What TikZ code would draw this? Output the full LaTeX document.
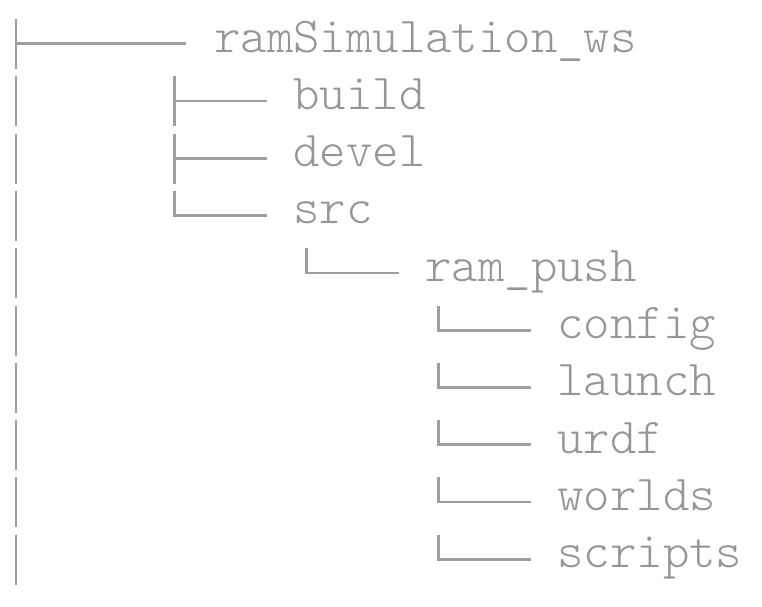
\documentclass[tikz,border=0pt]{standalone}
\definecolor{treegray}{RGB}{158,158,158}
\definecolor{textgray}{RGB}{150,150,150}
\begin{document}
\begin{tikzpicture}[x=1pt,y=-1pt,
  tree/.style={draw=treegray,line width=2.7pt,line cap=butt},
  lbl/.style={inner sep=0pt,anchor=base west,text=textgray,font=\ttfamily\fontseries{l}\fontsize{50.3}{50}\selectfont}]
\useasboundingbox (0,0) rectangle (762,606);
% row geometry: top = 19 + k*57.3, line at top+24.7, bottom = top+50
\def\P{57.3}
% column 0 vertical bars (rows 1..10)
\foreach \k in {0,...,9}{
  \draw[tree] (16,{19+\k*\P}) -- (16,{69+\k*\P});
}
% labels
\node[lbl] (ws)      at (214,{19+0*\P+33}) {ramSimulation\_ws};
\node[lbl] (build)   at (293.2,{19+1*\P+33}) {build};
\node[lbl] (devel)   at (293.2,{19+2*\P+33}) {devel};
\node[lbl] (src)     at (293.2,{19+3*\P+33}) {src};
\node[lbl] (rampush) at (425.2,{19+4*\P+33}) {ram\_push};
\node[lbl] (config)  at (557.2,{19+5*\P+33}) {config};
\node[lbl] (launch)  at (557.2,{19+6*\P+33}) {launch};
\node[lbl] (urdf)    at (557.2,{19+7*\P+33}) {urdf};
\node[lbl] (worlds)  at (557.2,{19+8*\P+33}) {worlds};
\node[lbl] (scripts) at (557.2,{19+9*\P+33}) {scripts};
% row 1 branch
\draw[tree] (16,{19+0*\P+24.7}) -- (186,{19+0*\P+24.7});
% column 6: build, devel (tee), src (corner)
\foreach \k in {1,2}{
  \draw[tree] (174.2,{19+\k*\P}) -- (174.2,{69+\k*\P});
  \draw[tree] (174.2,{19+\k*\P+24.7}) -- (266.8,{19+\k*\P+24.7});
}
\draw[tree,line join=miter] (174.2,{19+3*\P}) -- (174.2,{19+3*\P+24.7}) -- (266.8,{19+3*\P+24.7});
% column 11: ram_push corner
\draw[tree,line join=miter] (306.6,{19+4*\P}) -- (306.6,{19+4*\P+24.7}) -- (398.8,{19+4*\P+24.7});
% column 16: corners for config .. scripts
\foreach \k in {5,...,9}{
  \draw[tree,line join=miter] (438.2,{19+\k*\P}) -- (438.2,{19+\k*\P+24.7}) -- (530.8,{19+\k*\P+24.7});
}
\end{tikzpicture}
\end{document}
